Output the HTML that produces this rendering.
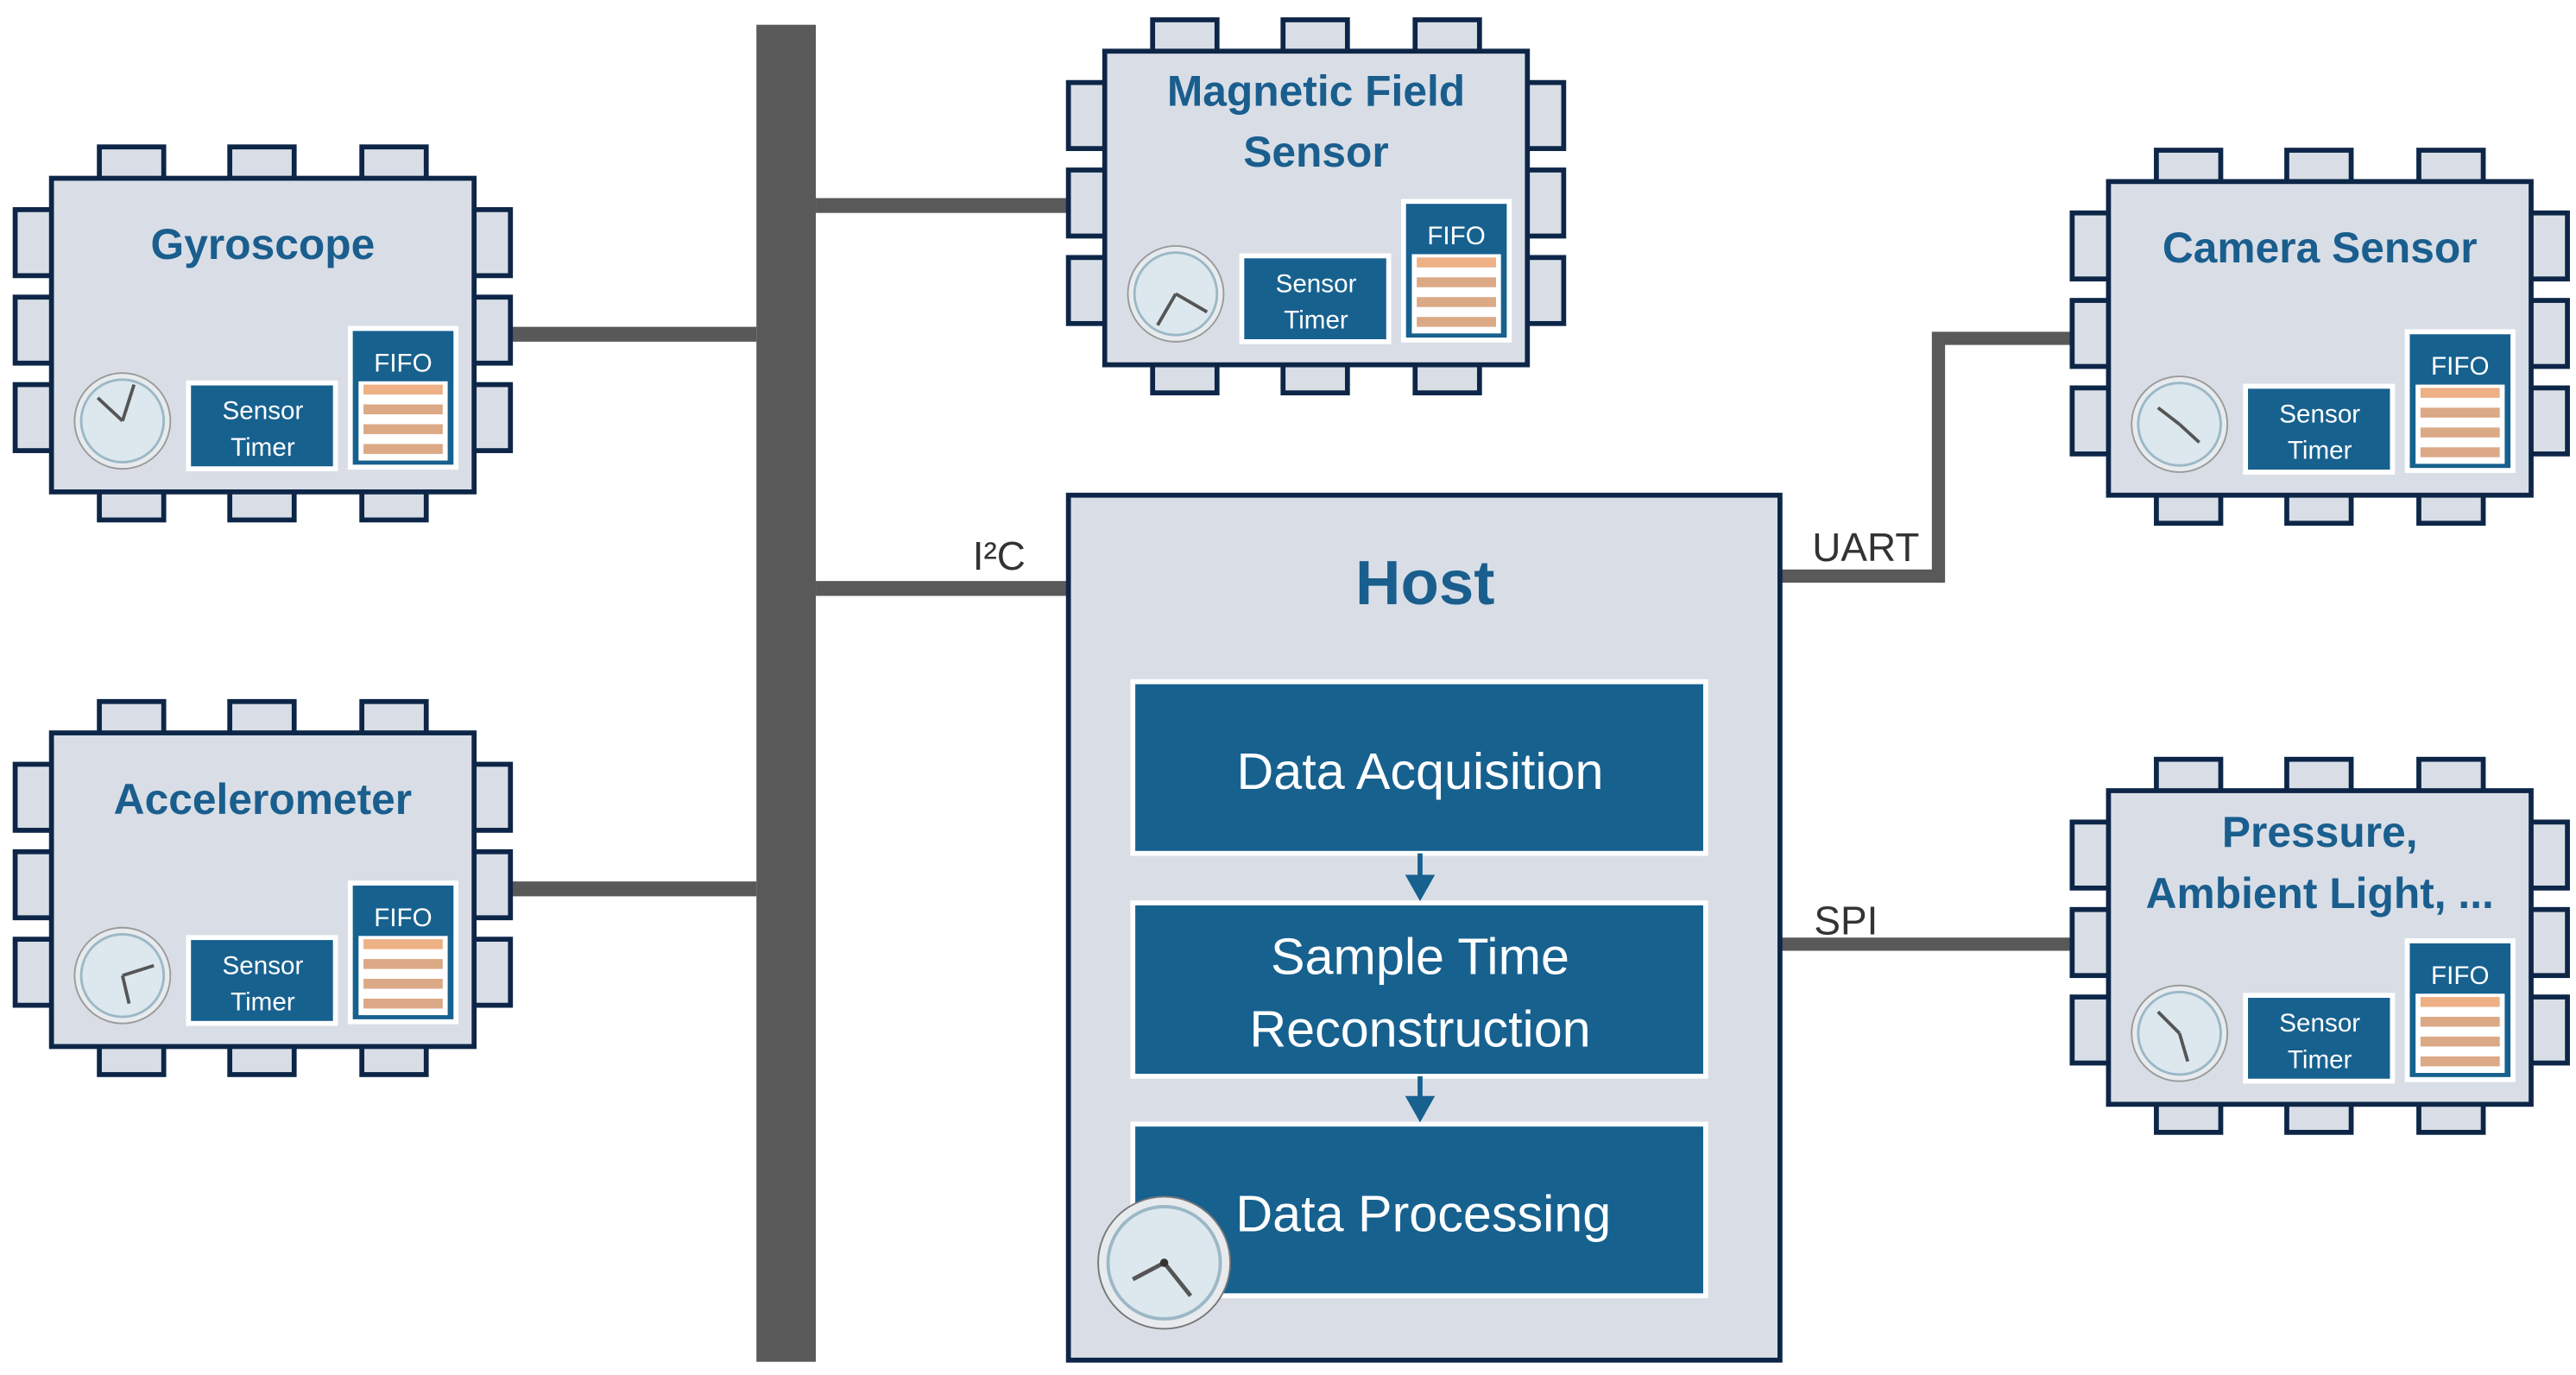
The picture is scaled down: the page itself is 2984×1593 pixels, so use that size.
<!DOCTYPE html>
<html><head><meta charset="utf-8"><style>
html,body{margin:0;padding:0;background:#fff;}
svg{display:block;}
text{font-family:"Liberation Sans",sans-serif;}
</style></head><body>
<svg width="2984" height="1593" viewBox="0 0 1560 833" xmlns="http://www.w3.org/2000/svg">
<defs>
<g id="pins" fill="#d9dee6" stroke="#0d2648" stroke-width="3">
  <rect x="29" y="-19" width="39" height="22"/><rect x="108" y="-19" width="39" height="22"/><rect x="188" y="-19" width="39" height="22"/>
  <rect x="29" y="187" width="39" height="20"/><rect x="108" y="187" width="39" height="20"/><rect x="188" y="187" width="39" height="20"/>
  <rect x="-22" y="19" width="25" height="40"/><rect x="-22" y="72" width="25" height="40"/><rect x="-22" y="125" width="25" height="40"/>
  <rect x="253" y="19" width="25" height="40"/><rect x="253" y="72" width="25" height="40"/><rect x="253" y="125" width="25" height="40"/>
</g>
<g id="clock">
  <circle r="29" fill="#e8ebee" stroke="#9a9a9a" stroke-width="1"/>
  <circle r="25" fill="#dce7ee" stroke="#9bb8c6" stroke-width="1.5"/>
</g>
<g id="chip">
  <use href="#pins"/>
  <rect x="0" y="0" width="256" height="190" fill="#d9dee6" stroke="#0d2648" stroke-width="3"/>
  <rect x="83" y="124" width="89" height="52" fill="#17618f" stroke="#fff" stroke-width="3"/>
  <text x="128" y="146" font-size="15.5" fill="#fff" text-anchor="middle">Sensor</text>
  <text x="128" y="168" font-size="15.5" fill="#fff" text-anchor="middle">Timer</text>
  <rect x="181" y="91" width="64" height="84" fill="#17618f" stroke="#fff" stroke-width="3"/>
  <text x="213" y="117" font-size="15.5" fill="#fff" text-anchor="middle">FIFO</text>
  <rect x="186" y="123" width="54" height="48" fill="#fff"/>
  <rect x="189" y="125" width="48" height="6" fill="#eeb085"/>
  <rect x="189" y="137" width="48" height="6" fill="#dba986"/>
  <rect x="189" y="149" width="48" height="6" fill="#dba986"/>
  <rect x="189" y="161" width="48" height="6" fill="#dba986"/>
  <use href="#clock" x="43" y="147"/>
</g>
</defs>

<!-- bus -->
<rect x="458" y="15" width="36" height="810" fill="#595959"/>
<!-- connectors -->
<rect x="308" y="198" width="150" height="9" fill="#595959"/>
<rect x="308" y="534" width="150" height="9" fill="#595959"/>
<rect x="494" y="120" width="153" height="9" fill="#595959"/>
<rect x="494" y="352" width="153" height="9" fill="#595959"/>
<polyline points="1078,349 1174,349 1174,205 1255,205" fill="none" stroke="#595959" stroke-width="8"/>
<rect x="1078" y="568" width="177" height="8" fill="#595959"/>

<!-- chips -->
<g transform="translate(31,108)"><use href="#chip"/>
  <text x="128" y="49" font-size="26" font-weight="bold" fill="#1a5e8e" text-anchor="middle">Gyroscope</text>
  <g stroke="#555" stroke-width="2"><line x1="43" y1="147" x2="28" y2="133"/><line x1="43" y1="147" x2="50" y2="125"/></g>
</g>
<g transform="translate(31,444)"><use href="#chip"/>
  <text x="128" y="49" font-size="26" font-weight="bold" fill="#1a5e8e" text-anchor="middle">Accelerometer</text>
  <g stroke="#555" stroke-width="2"><line x1="43" y1="147" x2="47" y2="164"/><line x1="43" y1="147" x2="62" y2="141"/></g>
</g>
<g transform="translate(669,31)"><use href="#chip"/>
  <text x="128" y="33" font-size="26" font-weight="bold" fill="#1a5e8e" text-anchor="middle">Magnetic Field</text>
  <text x="128" y="70" font-size="26" font-weight="bold" fill="#1a5e8e" text-anchor="middle">Sensor</text>
  <g stroke="#555" stroke-width="2"><line x1="43" y1="147" x2="32" y2="166"/><line x1="43" y1="147" x2="62" y2="158"/></g>
</g>
<g transform="translate(1277,110)"><use href="#chip"/>
  <text x="128" y="49" font-size="26" font-weight="bold" fill="#1a5e8e" text-anchor="middle">Camera Sensor</text>
  <g stroke="#555" stroke-width="2"><line x1="43" y1="147" x2="30" y2="137"/><line x1="43" y1="147" x2="55" y2="158"/></g>
</g>
<g transform="translate(1277,479)"><use href="#chip"/>
  <text x="128" y="34" font-size="26" font-weight="bold" fill="#1a5e8e" text-anchor="middle">Pressure,</text>
  <text x="128" y="71" font-size="26" font-weight="bold" fill="#1a5e8e" text-anchor="middle">Ambient Light, ...</text>
  <g stroke="#555" stroke-width="2"><line x1="43" y1="147" x2="30" y2="134"/><line x1="43" y1="147" x2="48" y2="164"/></g>
</g>

<!-- labels -->
<text x="605" y="345" font-size="24" fill="#333" text-anchor="middle">I²C</text>
<text x="1130" y="340" font-size="24" fill="#333" text-anchor="middle">UART</text>
<text x="1118" y="566" font-size="24" fill="#333" text-anchor="middle">SPI</text>

<!-- host -->
<rect x="647" y="300" width="431" height="524" fill="#d9dee6" stroke="#0d2648" stroke-width="3"/>
<text x="863" y="366" font-size="38" font-weight="bold" fill="#1a5e8e" text-anchor="middle">Host</text>
<rect x="686" y="413" width="347" height="104" fill="#17618f" stroke="#fff" stroke-width="3"/>
<text x="860" y="478" font-size="31" fill="#fff" text-anchor="middle">Data Acquisition</text>
<rect x="686" y="547" width="347" height="105" fill="#17618f" stroke="#fff" stroke-width="3"/>
<text x="860" y="590" font-size="31" fill="#fff" text-anchor="middle">Sample Time</text>
<text x="860" y="634" font-size="31" fill="#fff" text-anchor="middle">Reconstruction</text>
<rect x="686" y="681" width="347" height="104" fill="#17618f" stroke="#fff" stroke-width="3"/>
<text x="862" y="746" font-size="31" fill="#fff" text-anchor="middle">Data Processing</text>
<g fill="#17618f" stroke="#17618f" stroke-width="3">
  <line x1="860" y1="517" x2="860" y2="532"/><polygon points="851,530 869,530 860,546" stroke="none"/>
  <line x1="860" y1="652" x2="860" y2="666"/><polygon points="851,664 869,664 860,680" stroke="none"/>
</g>
<g transform="translate(705,765)">
  <circle r="40" fill="#e8ebee" stroke="#777" stroke-width="1"/>
  <circle r="34" fill="#dce7ee" stroke="#9bb8c6" stroke-width="2"/>
  <g stroke="#555" stroke-width="2.5"><line x1="0" y1="0" x2="-19" y2="10"/><line x1="0" y1="0" x2="16" y2="20"/></g>
  <circle r="2.5" fill="#333"/>
</g>
</svg>
</body></html>
